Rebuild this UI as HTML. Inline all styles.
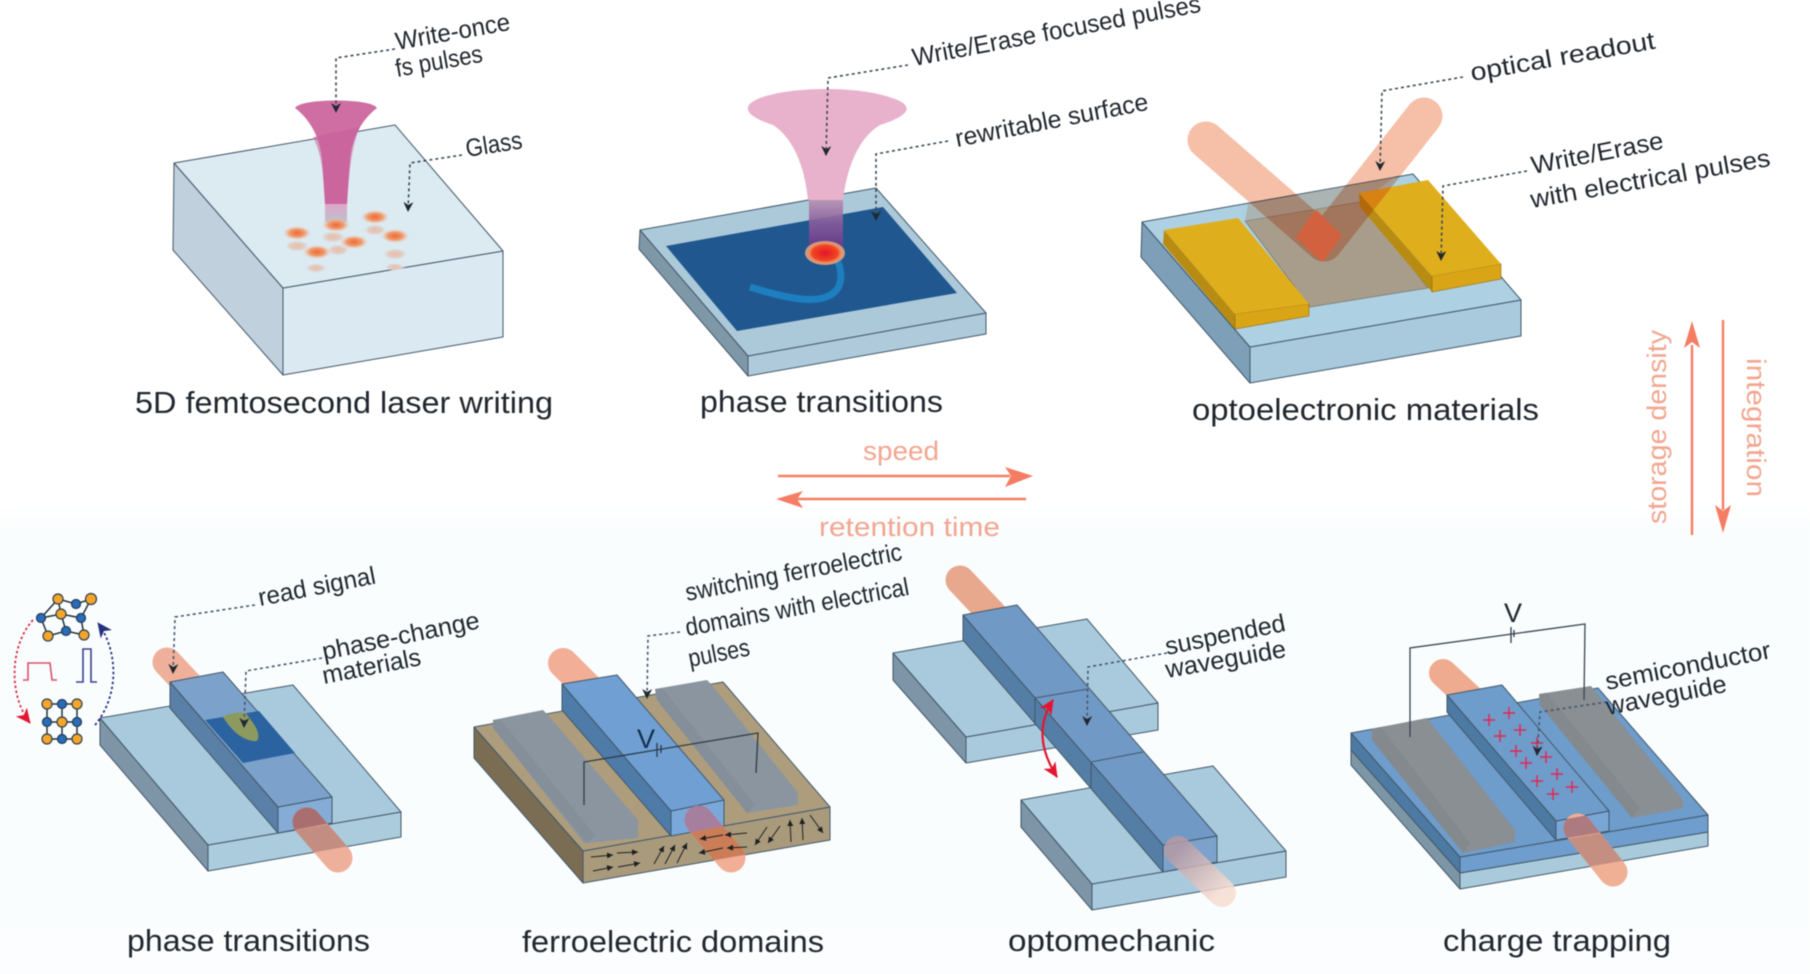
<!DOCTYPE html>
<html lang="en"><head><meta charset="utf-8"><title>Optical memory technologies</title>
<style>
html,body{margin:0;padding:0;background:#fff;width:1810px;height:974px;overflow:hidden}
svg{display:block;position:absolute;left:0;top:0;filter:blur(.5px)}
text{font-family:"Liberation Sans",sans-serif;fill:#20272e}
.t{font-size:31px}
.l{font-size:25px}
.s{font-size:27px;fill:#f2a690}
.d{fill:none;stroke:#3b4752;stroke-width:1.6;stroke-dasharray:3 3}
.e{stroke:#42586a;stroke-width:1;stroke-linejoin:round}
.w{fill:none;stroke:#2d3a48;stroke-width:1.3}
.b{fill:none;stroke-linecap:round}
.ar{stroke:#1d2020;stroke-width:1;fill:none;marker-end:url(#ka)}
.o{fill:#f5a62a;stroke:#2e3f4d;stroke-width:1.2}
.u{fill:#2a6cb5;stroke:#1e3a58;stroke-width:1.2}
</style></head><body>
<svg width="1810" height="974" viewBox="0 0 1810 974" xmlns="http://www.w3.org/2000/svg">
<defs>
<linearGradient id="bg" x1="0" y1="0" x2="0" y2="1"><stop offset="0" stop-color="#fff"/><stop offset=".07" stop-color="#f9fdfe"/><stop offset="1" stop-color="#fbfdfe"/></linearGradient>
<marker id="ma" markerUnits="userSpaceOnUse" markerWidth="12" markerHeight="12" refX="9" refY="5" orient="auto"><path d="M0,0L10,5L0,10L3,5z" fill="#20282f"/></marker>
<marker id="ka" markerUnits="userSpaceOnUse" markerWidth="7" markerHeight="7" refX="6" refY="3" orient="auto"><path d="M0,0L6,3L0,6z" fill="#1d2020"/></marker>
<marker id="mr" markerUnits="userSpaceOnUse" markerWidth="18" markerHeight="18" refX="14" refY="7" orient="auto"><path d="M0,0L15,7L0,14L4,7z" fill="#e3162f"/></marker>
<marker id="mrb" markerUnits="userSpaceOnUse" markerWidth="18" markerHeight="18" refX="14" refY="7" orient="auto-start-reverse"><path d="M0,0L15,7L0,14L4,7z" fill="#e3162f"/></marker>
<marker id="mb" markerUnits="userSpaceOnUse" markerWidth="18" markerHeight="18" refX="14" refY="7" orient="auto"><path d="M0,0L15,7L0,14L4,7z" fill="#25307f"/></marker>
<radialGradient id="sp"><stop offset="0" stop-color="#ed6a36"/><stop offset=".55" stop-color="#f09a6c"/><stop offset="1" stop-color="#f3c3a6" stop-opacity="0"/></radialGradient>
<radialGradient id="sf"><stop offset="0" stop-color="#e8bca7"/><stop offset=".6" stop-color="#e0cfc6"/><stop offset="1" stop-color="#dbe9f1" stop-opacity="0"/></radialGradient>
<radialGradient id="hot"><stop offset="0" stop-color="#e2162e"/><stop offset=".65" stop-color="#f2461f"/><stop offset=".8" stop-color="#e7916a"/><stop offset="1" stop-color="#c79c83"/></radialGradient>
<linearGradient id="tube2" x1="0" y1="0" x2="0" y2="1"><stop offset="0" stop-color="#b78fb0"/><stop offset=".45" stop-color="#8a5c9c"/><stop offset="1" stop-color="#6c3488"/></linearGradient>
<linearGradient id="tube1" x1="0" y1="0" x2="0" y2="1"><stop offset="0" stop-color="#dfa6c8"/><stop offset="1" stop-color="#bfc0ce"/></linearGradient>
<linearGradient id="fade" x1="0" y1="0" x2="1" y2="1"><stop offset="0" stop-color="#b59ba6"/><stop offset="1" stop-color="#f7ddd2"/></linearGradient>
<clipPath id="c4a"><path d="M278,807L332,797V823L278,833z"/></clipPath>
<clipPath id="c4b"><path d="M208,845L401,812V837L208,871z"/></clipPath>
<clipPath id="c5a"><path d="M671,811L724,800V826L671,836z"/></clipPath>
<clipPath id="c5b"><path d="M583,851L830,807V840L583,883z"/></clipPath>
<clipPath id="c7a"><path d="M1556,821L1609,811V831L1556,840z"/></clipPath>
<clipPath id="c7b"><path d="M1460,857L1708,815V846L1460,889z"/></clipPath>
</defs>
<rect x="0" y="505" width="1810" height="469" fill="url(#bg)"/>

<!-- panel 1 -->
<path class="e" d="M174,163L283,288V375L173,250z" fill="#c0d0dc" stroke="#8aa2b1"/>
<path class="e" d="M283,288L503,251V337L283,375z" fill="#dbe9f2" stroke="#8aa2b1"/>
<path class="e" d="M174,163L395,125L503,251L283,288z" fill="#dceaf2" stroke="#8aa2b1"/>
<g>
<ellipse cx="297" cy="246" rx="13" ry="6" fill="url(#sf)"/><ellipse cx="333" cy="237" rx="13" ry="6" fill="url(#sf)"/><ellipse cx="375" cy="230" rx="12" ry="6" fill="url(#sf)"/><ellipse cx="338" cy="250" rx="12" ry="6" fill="url(#sf)"/><ellipse cx="395" cy="254" rx="13" ry="6" fill="url(#sf)"/><ellipse cx="316" cy="268" rx="11" ry="5" fill="url(#sf)"/><ellipse cx="395" cy="267" rx="11" ry="4" fill="url(#sf)"/>
<ellipse cx="297" cy="233" rx="14" ry="7" fill="url(#sp)"/><ellipse cx="375" cy="217" rx="14" ry="7" fill="url(#sp)"/><ellipse cx="354" cy="242" rx="14" ry="7" fill="url(#sp)"/><ellipse cx="395" cy="236" rx="14" ry="7" fill="url(#sp)"/><ellipse cx="317" cy="252" rx="14" ry="7" fill="url(#sp)"/>
</g>
<path d="M325,203H347V222H325z" fill="url(#tube1)"/>
<ellipse cx="336" cy="225" rx="14" ry="7" fill="url(#sp)"/>
<path d="M295,108C308,118 320,135 322,160L325,204H347L350,160C352,135 364,118 377,108C372,98 300,98 295,108z" fill="#cf6ea2"/>
<path d="M313,137L360,127C352,145 349,170 347,204H325C324,175 322,155 313,137z" fill="#c75f99" opacity=".55"/>
<path class="d" d="M395,49L336,58V112" marker-end="url(#ma)"/>
<path class="d" d="M462,155L410,163L408,211" marker-end="url(#ma)"/>
<text class="l" transform="translate(397,50) rotate(-10)" textLength="116" lengthAdjust="spacingAndGlyphs">Write-once</text>
<text class="l" transform="translate(397,77) rotate(-10)" textLength="88" lengthAdjust="spacingAndGlyphs">fs pulses</text>
<text class="l" transform="translate(467,157) rotate(-9)" textLength="57" lengthAdjust="spacingAndGlyphs">Glass</text>
<text class="t" x="135" y="413" textLength="418" lengthAdjust="spacingAndGlyphs">5D femtosecond laser writing</text>

<!-- panel 2 -->
<path class="e" d="M640,230L748,356V376L639,249z" fill="#7f98a8"/>
<path class="e" d="M748,356L986,313V334L748,376z" fill="#aecadb"/>
<path class="e" d="M640,230L876,188L986,313L748,356z" fill="#acc9da"/>
<path d="M666,246L883,207L957,293L737,331z" fill="#20578f"/>
<path d="M750,287C785,298 825,308 838,288C842,280 842,272 838,262" fill="none" stroke="#1d7fc0" stroke-width="7"/>
<path d="M809,200H843V250H809z" fill="url(#tube2)" opacity=".9"/>
<path d="M773,125C790,136 804,160 808,200H843C848,160 862,136 880,125C912,115 914,105 892,98C860,86 792,86 760,98C742,105 742,115 773,125z" fill="#e9b2cc"/>
<ellipse cx="825" cy="253" rx="20" ry="12" fill="url(#hot)"/>
<path class="d" d="M908,65L828,78L826,155" marker-end="url(#ma)"/>
<path class="d" d="M948,141L876,154V220" marker-end="url(#ma)"/>
<text class="l" transform="translate(914,66) rotate(-10.7)" textLength="293" lengthAdjust="spacingAndGlyphs">Write/Erase focused pulses</text>
<text class="l" transform="translate(957,147) rotate(-11)" textLength="196" lengthAdjust="spacingAndGlyphs">rewritable surface</text>
<text class="t" x="700" y="412" textLength="243" lengthAdjust="spacingAndGlyphs">phase transitions</text>

<!-- panel 3 -->
<path class="e" d="M1142,222L1250,347V383L1141,257z" fill="#7d9fb8"/>
<path class="e" d="M1250,347L1521,300V336L1250,383z" fill="#a9c9dd"/>
<path class="e" d="M1142,222L1413,174L1521,300L1250,347z" fill="#add0e3"/>
<path d="M1245,221L1360,202L1428,288L1310,307z" fill="#a89d8b" stroke="#6d6a60" stroke-width=".6"/>
<path d="M1248,204L1395,177L1360,202L1245,221z" fill="#a89d8b" opacity=".55"/>
<path d="M1164,230L1235,314V329L1163,244z" fill="#b88c12"/>
<path d="M1235,314L1309,304V316L1235,329z" fill="#d9a516" stroke="#8a6a10" stroke-width=".6"/>
<path d="M1164,230L1238,218L1309,304L1235,314z" fill="#dfae1c"/>
<path d="M1359,193L1432,276V292L1360,207z" fill="#b88c12"/>
<path d="M1432,276L1501,264V279L1432,292z" fill="#d9a516" stroke="#8a6a10" stroke-width=".6"/>
<path d="M1359,193L1428,180L1501,264L1432,276z" fill="#dfae1c"/>
<g style="mix-blend-mode:multiply">
<path class="b" d="M1206,140L1324,243" stroke="#f6bfa8" stroke-width="37"/>
<path class="b" d="M1424,116L1324,243" stroke="#f6bfa8" stroke-width="37"/>
</g>
<path d="M1316,213L1339,236L1322,259L1299,237z" fill="#d2623f" stroke="#d2623f" stroke-width="5" stroke-linejoin="round"/>
<path class="d" d="M1463,77L1382,91L1380,170" marker-end="url(#ma)"/>
<path class="d" d="M1527,171L1443,186L1441,260" marker-end="url(#ma)"/>
<text class="l" transform="translate(1472,81) rotate(-10)" textLength="187" lengthAdjust="spacingAndGlyphs">optical readout</text>
<text class="l" transform="translate(1533,174) rotate(-11)" textLength="134" lengthAdjust="spacingAndGlyphs">Write/Erase</text>
<text class="l" transform="translate(1532,208) rotate(-10)" textLength="243" lengthAdjust="spacingAndGlyphs">with electrical pulses</text>
<text class="t" x="1192" y="420" textLength="347" lengthAdjust="spacingAndGlyphs">optoelectronic materials</text>

<!-- axis arrows -->
<path d="M778,476H1010" stroke="#f47d63" stroke-width="2.4"/><path d="M1033,476L1005,467L1011,476L1005,487z" fill="#f47d63"/>
<path d="M1026,499H797" stroke="#f47d63" stroke-width="2.4"/><path d="M776,499L803,491L797,499L803,508z" fill="#f47d63"/>
<text class="s" x="863" y="460" textLength="76" lengthAdjust="spacingAndGlyphs">speed</text>
<text class="s" x="819" y="536" textLength="181" lengthAdjust="spacingAndGlyphs">retention time</text>
<path d="M1692,535V345" stroke="#f47d63" stroke-width="2.4"/><path d="M1692,321L1684,348L1692,342L1700,348z" fill="#f47d63"/>
<path d="M1723,320V510" stroke="#f47d63" stroke-width="2.4"/><path d="M1723,533L1715,505L1723,511L1731,505z" fill="#f47d63"/>
<text class="s" transform="translate(1666,524) rotate(-90)" textLength="194" lengthAdjust="spacingAndGlyphs">storage density</text>
<text class="s" transform="translate(1747,358) rotate(90)" textLength="139" lengthAdjust="spacingAndGlyphs">integration</text>

<!-- panel 4 -->
<path class="b" d="M167,662L195,692" stroke="#eeb09a" stroke-width="29"/>
<path class="e" d="M100,718L208,845V871L100,745z" fill="#7d95a6"/>
<path class="e" d="M208,845L401,812V837L208,871z" fill="#aaccdd"/>
<path class="e" d="M100,718L293,685L401,812L208,845z" fill="#a9cadc"/>
<path class="e" d="M170,682L278,807V833L170,708z" fill="#5a80a8"/>
<path class="e" d="M278,807L332,797V823L278,833z" fill="#85acd6"/>
<path class="e" d="M170,682L223,672L332,797L278,807z" fill="#7ca2cc"/>
<path d="M205,720L259,711L295,753L243,763z" fill="#2b62a0"/>
<path d="M223,717C232,712 240,712 246,713C252,722 262,732 257,741C245,742 232,732 223,717z" fill="#8c9a60"/>
<path class="b" d="M307,822L338,858" stroke="#eeb09a" stroke-width="29"/>
<g clip-path="url(#c4b)"><path class="b" d="M307,822L338,858" stroke="#c48d82" stroke-width="29"/></g>
<g clip-path="url(#c4a)"><path class="b" d="M307,822L338,858" stroke="#a96f70" stroke-width="29"/></g>
<path class="d" d="M255,605L175,617L173,673" marker-end="url(#ma)" style="stroke:#46566a"/>
<path class="d" d="M322,658L246,671L244,727" marker-end="url(#ma)" style="stroke:#46566a"/>
<text class="l" transform="translate(260,606) rotate(-11)" textLength="119" lengthAdjust="spacingAndGlyphs">read signal</text>
<text class="l" transform="translate(324,660) rotate(-11.5)" textLength="160" lengthAdjust="spacingAndGlyphs">phase-change</text>
<text class="l" transform="translate(324,684) rotate(-11)" textLength="100" lengthAdjust="spacingAndGlyphs">materials</text>
<text class="t" x="127" y="951" textLength="243" lengthAdjust="spacingAndGlyphs">phase transitions</text>
<!-- crystals -->
<path d="M58,599L76,604L91,599L81,618L61,614L58,599M41,618L58,599M41,618L61,614L81,618M41,618L48,636L66,631L84,635L81,618M66,631L61,614" fill="none" stroke="#22333a" stroke-width="1.5"/>
<circle class="o" cx="58" cy="599" r="5"/><circle class="o" cx="91" cy="599" r="5.5"/><circle class="o" cx="61" cy="614" r="5"/><circle class="o" cx="48" cy="636" r="5"/><circle class="o" cx="84" cy="635" r="5"/>
<circle class="u" cx="76" cy="604" r="4.5"/><circle class="u" cx="41" cy="618" r="4.5"/><circle class="u" cx="81" cy="618" r="4.5"/><circle class="u" cx="66" cy="631" r="4.5"/>
<path d="M47,704H77V739H47zM62,704V739M47,722H77" fill="none" stroke="#22333a" stroke-width="1.5"/>
<circle class="o" cx="47" cy="704" r="5"/><circle class="o" cx="77" cy="704" r="5"/><circle class="o" cx="62" cy="722" r="5"/><circle class="o" cx="47" cy="739" r="5"/><circle class="o" cx="77" cy="739" r="5"/>
<circle class="u" cx="62" cy="704" r="4.5"/><circle class="u" cx="47" cy="722" r="4.5"/><circle class="u" cx="77" cy="722" r="4.5"/><circle class="u" cx="62" cy="739" r="4.5"/>
<path d="M33,620C10,645 8,695 30,723" fill="none" stroke="#df2a45" stroke-width="1.8" stroke-dasharray="2.5 2.5" marker-end="url(#mr)"/>
<path d="M95,725C120,695 118,650 98,623" fill="none" stroke="#25307f" stroke-width="1.8" stroke-dasharray="2.5 2.5" marker-end="url(#mb)"/>
<path d="M23,680H28V663H50L52,680H57" fill="none" stroke="#d8526c" stroke-width="1.6"/>
<path d="M76,682H83V649H91V682H97" fill="none" stroke="#3a4191" stroke-width="1.6"/>

<!-- panel 5 -->
<path class="b" d="M563,663L595,695" stroke="#f3ae98" stroke-width="30"/>
<path class="e" d="M474,727L583,851V883L474,758z" fill="#7a6d54"/>
<path class="e" d="M583,851L830,807V840L583,883z" fill="#a99a7c"/>
<path class="e" d="M474,727L723,682L830,807L583,851z" fill="#ad9d7d"/>
<path d="M493,720L543,710L547,714L638,820V838L587,843L584,843L493,728z" fill="#8b959f"/>
<path d="M493,720L500,719L595,835L587,843L493,728z" fill="#848f9a"/>
<path d="M655,689L707,680L711,684L798,793V805L747,813L657,700z" fill="#8b959f"/>
<path d="M655,689L662,688L755,805L747,813L657,700z" fill="#848f9a"/>
<path class="e" d="M562,684L671,811V836L562,710z" fill="#4f7ba8"/>
<path class="e" d="M671,811L724,800V826L671,836z" fill="#7aa8db"/>
<path class="e" d="M562,684L617,675L724,800L671,811z" fill="#6f9fd3"/>
<path class="b" d="M699,820L731,858" stroke="#f3ae98" stroke-width="29"/>
<g clip-path="url(#c5b)"><path class="b" d="M699,820L731,858" stroke="#cb7d58" stroke-width="29"/></g>
<g clip-path="url(#c5a)"><path class="b" d="M699,820L731,858" stroke="#a67f9f" stroke-width="29"/></g>
<path class="ar" d="M591,857L613,855"/><path class="ar" d="M617,853L638,852"/><path class="ar" d="M593,871L613,867"/><path class="ar" d="M618,867L640,863"/>
<path class="ar" d="M654,864L664,846"/><path class="ar" d="M665,864L675,845"/><path class="ar" d="M677,863L687,843"/>
<path class="ar" d="M723,835L700,839"/><path class="ar" d="M747,833L725,835"/><path class="ar" d="M723,848L699,853"/><path class="ar" d="M747,847L727,848"/>
<path class="ar" d="M767,827L755,845"/><path class="ar" d="M780,826L768,843"/><path class="ar" d="M791,842L790,820"/><path class="ar" d="M803,840L802,818"/><path class="ar" d="M810,815L823,833"/>
<path class="w" d="M584,805V762L758,733L756,773"/>
<path class="w" d="M657,743V757M661,745V753"/>
<text x="637" y="748" style="font-size:27px;fill:#16304f">V</text>
<path class="d" d="M680,632L648,636L647,698" marker-end="url(#ma)" style="stroke:#46566a"/>
<text class="l" transform="translate(687,601) rotate(-10.8)" textLength="220" lengthAdjust="spacingAndGlyphs">switching ferroelectric</text>
<text class="l" transform="translate(687,636) rotate(-10.5)" textLength="227" lengthAdjust="spacingAndGlyphs">domains with electrical</text>
<text class="l" transform="translate(690,667) rotate(-11)" textLength="62" lengthAdjust="spacingAndGlyphs">pulses</text>
<text class="t" x="522" y="952" textLength="302" lengthAdjust="spacingAndGlyphs">ferroelectric domains</text>

<!-- panel 6 -->
<path class="b" d="M960,580L993,615" stroke="#e8a88e" stroke-width="29"/>
<path class="e" d="M893,653L966,737V763L893,680z" fill="#7d95a6"/>
<path class="e" d="M966,737L1158,703V730L966,763z" fill="#a9cadc"/>
<path class="e" d="M893,653L1087,619L1158,703L966,737z" fill="#a9cadc"/>
<path class="e" d="M1021,800L1092,884V910L1021,827z" fill="#7d95a6"/>
<path class="e" d="M1092,884L1286,851V877L1092,910z" fill="#a9cadc"/>
<path class="e" d="M1021,800L1213,766L1286,851L1092,884z" fill="#a9cadc"/>
<path class="e" d="M963,615L1163,845V872L963,640z" fill="#557ea6"/>
<path class="e" d="M1163,845L1217,836V862L1163,872z" fill="#7ca2cc"/>
<path class="e" d="M963,615L1017,605L1217,836L1163,845z" fill="#7199c5"/>
<path class="e" d="M1035,698L1088,689M1035,698V725M1091,762L1143,752M1091,762V788" fill="none"/>
<path class="b" d="M1178,850L1222,893" stroke="url(#fade)" stroke-width="28" opacity=".85"/>
<path d="M1053,700C1037,725 1040,750 1057,777" fill="none" stroke="#e3162f" stroke-width="2.2" marker-start="url(#mrb)" marker-end="url(#mr)"/>
<path class="d" d="M1167,653L1088,667L1087,725" marker-end="url(#ma)" style="stroke:#46566a"/>
<text class="l" transform="translate(1167,655) rotate(-11.5)" textLength="122" lengthAdjust="spacingAndGlyphs">suspended</text>
<text class="l" transform="translate(1167,678) rotate(-10)" textLength="122" lengthAdjust="spacingAndGlyphs">waveguide</text>
<text class="t" x="1008" y="951" textLength="207" lengthAdjust="spacingAndGlyphs">optomechanic</text>

<!-- panel 7 -->
<path class="b" d="M1443,673L1472,700" stroke="#efab8f" stroke-width="28"/>
<path class="e" d="M1351,750L1460,873V889L1351,765z" fill="#7d96a5"/>
<path class="e" d="M1460,873L1708,832V846L1460,889z" fill="#a8cadb"/>
<path class="e" d="M1351,733L1460,857V873L1351,750z" fill="#4d7aa3"/>
<path class="e" d="M1460,857L1708,815V832L1460,873z" fill="#6f9dcd"/>
<path class="e" d="M1351,733L1598,688L1708,815L1460,857z" fill="#6e9ccb"/>
<path d="M1372,729L1427,718L1515,830V842L1463,853L1372,740z" fill="#8a8f93"/>
<path d="M1372,729L1381,727L1470,843L1463,853L1372,740z" fill="#84898d"/>
<path d="M1539,694L1591,686L1683,800V808L1632,818L1540,705z" fill="#8a8f93"/>
<path d="M1539,694L1547,693L1640,808L1632,818L1540,705z" fill="#84898d"/>
<path class="e" d="M1447,695L1556,821V840L1447,712z" fill="#4d7aa3"/>
<path class="e" d="M1556,821L1609,811V831L1556,840z" fill="#7aa6d6"/>
<path class="e" d="M1447,695L1502,685L1609,811L1556,821z" fill="#6e9ccb"/>
<path class="b" d="M1578,828L1613,872" stroke="#efb096" stroke-width="29"/>
<g clip-path="url(#c7b)"><path class="b" d="M1578,828L1613,872" stroke="#c48f80" stroke-width="29"/></g>
<g clip-path="url(#c7a)"><path class="b" d="M1578,828L1613,872" stroke="#ad7a80" stroke-width="29"/></g>
<g style="stroke:#e3254f;stroke-width:1.4;fill:none">
<path d="M1483,720h12M1489,714v12M1503,713h12M1509,707v12M1514,730h12M1520,724v12M1494,736h12M1500,730v12M1510,751h12M1516,745v12M1531,743h12M1537,737v12M1540,757h12M1546,751v12M1520,763h12M1526,757v12M1551,774h12M1557,768v12M1531,781h12M1537,775v12M1566,787h12M1572,781v12M1547,794h12M1553,788v12"/>
</g>
<path class="w" d="M1410,737V648L1585,624L1584,700" style="stroke:#3a4450"/>
<path class="w" d="M1511,627V643M1514,630V637"/>
<text x="1504" y="622" style="font-size:27px">V</text>
<path class="d" d="M1607,702L1540,712L1537,755" marker-end="url(#ma)" style="stroke:#46566a"/>
<text class="l" transform="translate(1607,690) rotate(-11)" textLength="168" lengthAdjust="spacingAndGlyphs">semiconductor</text>
<text class="l" transform="translate(1608,715) rotate(-11)" textLength="122" lengthAdjust="spacingAndGlyphs">waveguide</text>
<text class="t" x="1443" y="951" textLength="228" lengthAdjust="spacingAndGlyphs">charge trapping</text>
</svg>
</body></html>
